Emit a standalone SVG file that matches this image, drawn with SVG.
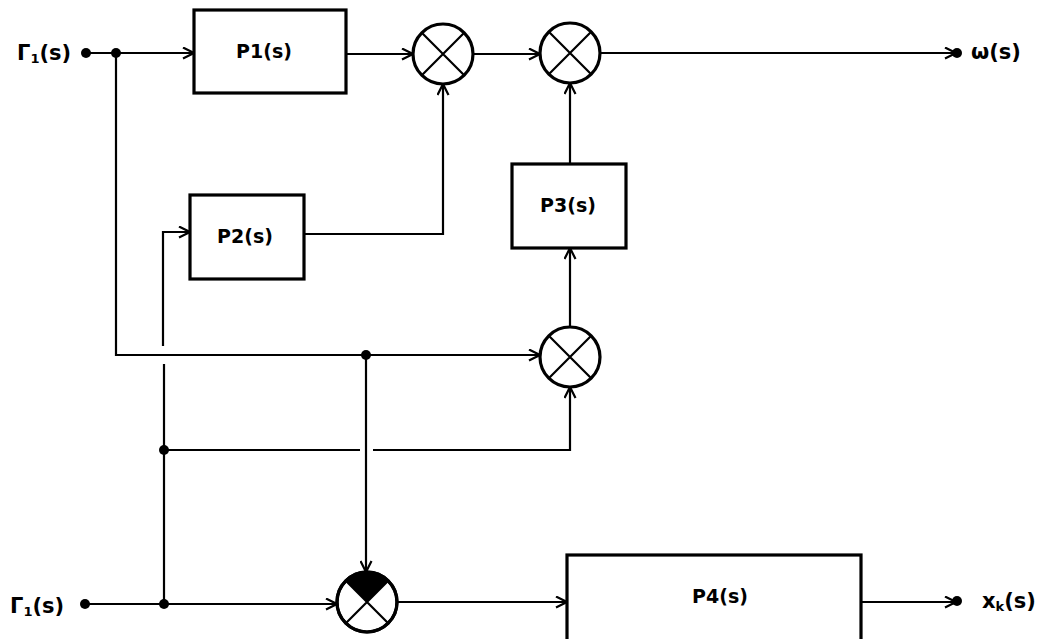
<svg xmlns="http://www.w3.org/2000/svg" width="1041" height="639" viewBox="0 0 1041 639">
<style>
.box{fill:#fff;stroke:#000;stroke-width:3.2}
.sum{fill:#fff;stroke:#000;stroke-width:3.2}
.x{stroke:#000;stroke-width:2.2;fill:none}
.w{fill:none;stroke:#000;stroke-width:2.2}
.a{marker-end:url(#arr)}
.lbl{font-family:"DejaVu Sans","Liberation Sans",sans-serif;font-weight:bold;font-size:19px;fill:#000}
.io{font-family:"DejaVu Sans","Liberation Sans",sans-serif;font-weight:bold;font-size:21px;fill:#000}
.sub{font-size:13px}
</style>
<defs>
<marker id="arr" viewBox="0 0 13 13" refX="12" refY="6.5" markerWidth="13" markerHeight="13" markerUnits="userSpaceOnUse" orient="auto">
<path d="M1,1 L12,6.5 L1,12" fill="none" stroke="#000" stroke-width="2.2"/>
</marker>
</defs>
<rect width="1041" height="639" fill="#fff"/>
<g id="connectors">
<line class="w a" x1="86" y1="53" x2="194" y2="53"/>
<line class="w a" x1="346" y1="54" x2="413" y2="54"/>
<line class="w a" x1="473" y1="54" x2="540" y2="54"/>
<line class="w a" x1="600" y1="53" x2="956" y2="53"/>
<polyline class="w a" points="304,234 443,234 443,84"/>
<line class="w a" x1="570" y1="164" x2="570" y2="83"/>
<line class="w a" x1="570" y1="327" x2="570" y2="248"/>
<polyline class="w a" points="116,53 116,355 540,355"/>
<line class="w a" x1="366" y1="355" x2="366" y2="572"/>
<polyline class="w a" points="163,346 163,232 190,232"/>
<line class="w" x1="164" y1="364" x2="164" y2="604"/>
<line class="w" x1="164" y1="450" x2="360" y2="450"/>
<polyline class="w a" points="373,450 570,450 570,387"/>
<line class="w a" x1="86" y1="604" x2="337" y2="604"/>
<line class="w a" x1="397" y1="602" x2="567" y2="602"/>
<line class="w a" x1="861" y1="602" x2="956" y2="602"/>
</g>
<g id="dots">
<circle cx="86" cy="53" r="5"/>
<circle cx="116" cy="53" r="5"/>
<circle cx="957" cy="53" r="5"/>
<circle cx="366" cy="355" r="5"/>
<circle cx="164" cy="450" r="5"/>
<circle cx="85" cy="604" r="5"/>
<circle cx="164" cy="604" r="5"/>
<circle cx="957" cy="601" r="5"/>
</g>
<g id="P1"><rect class="box" x="194" y="10" width="152" height="83"/><text class="lbl" x="264" y="58" text-anchor="middle">P1(s)</text></g>
<g id="P2"><rect class="box" x="190" y="195" width="114" height="84"/><text class="lbl" x="245" y="243" text-anchor="middle">P2(s)</text></g>
<g id="P3"><rect class="box" x="512" y="164" width="114" height="84"/><text class="lbl" x="568" y="212" text-anchor="middle">P3(s)</text></g>
<g id="P4"><rect class="box" x="567" y="555" width="294" height="100"/><text class="lbl" x="720" y="603" text-anchor="middle">P4(s)</text></g>
<g id="S1"><circle class="sum" cx="443" cy="54" r="30"/><path class="x" d="M421.8,32.8 L464.2,75.2 M464.2,32.8 L421.8,75.2"/></g>
<g id="S2"><circle class="sum" cx="570" cy="53" r="30"/><path class="x" d="M548.8,31.8 L591.2,74.2 M591.2,31.8 L548.8,74.2"/></g>
<g id="S3"><circle class="sum" cx="570" cy="357" r="30"/><path class="x" d="M548.8,335.8 L591.2,378.2 M591.2,335.8 L548.8,378.2"/></g>
<g id="S4"><circle class="sum" cx="367" cy="602" r="30"/><path d="M367,602 L345.8,580.8 A30,30 0 0 1 388.2,580.8 Z" fill="#000"/><path class="x" d="M345.8,580.8 L388.2,623.2 M388.2,580.8 L345.8,623.2"/><circle cx="367" cy="602" r="30" fill="none" stroke="#000" stroke-width="3.2"/></g>
<g id="labels">
<text class="io" x="17" y="60">Γ<tspan class="sub" dy="3">1</tspan><tspan dy="-3">(s)</tspan></text>
<text class="io" x="10" y="613">Γ<tspan class="sub" dy="3">1</tspan><tspan dy="-3">(s)</tspan></text>
<text class="io" x="971" y="59">ω(s)</text>
<text class="io" x="982" y="608">x<tspan class="sub" dy="3">k</tspan><tspan dy="-3">(s)</tspan></text>
</g>
</svg>
